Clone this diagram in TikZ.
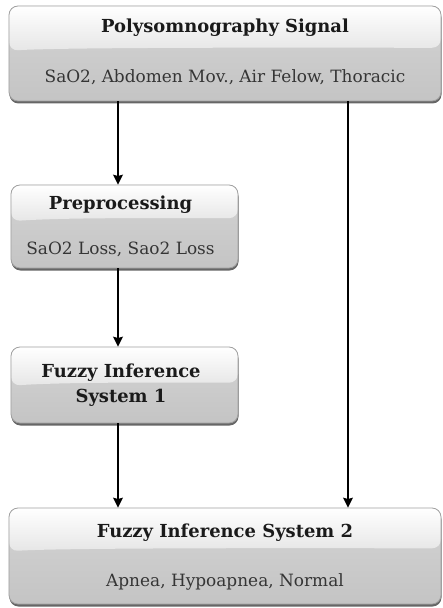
\documentclass[tikz,border=0pt]{standalone}
\usepackage{fontspec}
\setmainfont{DejaVu Serif}
\usetikzlibrary{shadows,calc,arrows.meta}
\definecolor{topgray}{HTML}{E6E6E6}
\definecolor{botgrayA}{HTML}{D4D4D4}
\definecolor{botgrayB}{HTML}{C4C4C4}
\definecolor{edgegray}{HTML}{A0A0A0}
\definecolor{txtdark}{HTML}{1A1A1A}
\definecolor{txtsub}{HTML}{353535}
\tikzset{
  glossbox/.style={draw=edgegray, line width=0.8bp, rounded corners=9bp, inner sep=0pt,
    drop shadow={shadow xshift=0.5bp, shadow yshift=-2.5bp, fill=black, opacity=0.6},
    path picture={
      \shade[top color=botgrayA, bottom color=botgrayB] (path picture bounding box.south west) rectangle (path picture bounding box.north east);
      \shade[top color=white, bottom color=topgray]
        (path picture bounding box.north west) --
        (path picture bounding box.north east) --
        ($(path picture bounding box.north east)!#1!(path picture bounding box.south east)$)
        .. controls +(-60bp,0bp) and +(60bp,4bp) ..
        ($(path picture bounding box.north west)!#1!(path picture bounding box.south west)+(0bp,-3bp)$) -- cycle;
    }},
  titletext/.style={font=\fontsize{18}{25}\selectfont\bfseries, text=txtdark, align=center, inner sep=0pt},
  subtext/.style={font=\fontsize{17}{20}\selectfont, text=txtsub, inner sep=0pt},
  flow/.style={line width=1.2bp, -{Stealth[length=10bp,width=10bp,inset=1.5bp]}, black}
}
\begin{document}
\begin{tikzpicture}[x=1bp,y=-1bp]
\useasboundingbox (0,0) rectangle (443,608);
% boxes
\node[glossbox=0.44, minimum width=432bp, minimum height=95bp] (psg) at (225,53.5) {};
\node[glossbox=0.40, minimum width=227bp, minimum height=83bp] (pre) at (124.5,226.5) {};
\node[glossbox=0.47, minimum width=227bp, minimum height=76bp] (fis1) at (124.5,385) {};
\node[glossbox=0.42, minimum width=432bp, minimum height=96bp] (fis2) at (225,556) {};
% texts
\node[titletext] (psgT) at (225,28) {Polysomnography Signal};
\node[subtext] (psgS) at (225,77) {SaO2, Abdomen Mov., Air Felow, Thoracic};
\node[titletext] (preT) at (120.5,205) {Preprocessing};
\node[subtext] (preS) at (120.5,249) {SaO2 Loss, Sao2 Loss};
\node[titletext] (fis1T) at (121,385) {Fuzzy Inference\\System 1};
\node[titletext] (fis2T) at (225,533) {Fuzzy Inference System 2};
\node[subtext] (fis2S) at (225,582) {Apnea, Hypoapnea, Normal};
% connectors
\coordinate (laneL) at (118,0);
\coordinate (laneR) at (348,0);
\draw[flow] (psg.south -| laneL) -- (pre.north -| laneL);
\draw[flow] (pre.south -| laneL) -- (fis1.north -| laneL);
\draw[flow] (fis1.south -| laneL) -- (fis2.north -| laneL);
\draw[flow] (psg.south -| laneR) -- (fis2.north -| laneR);
\end{tikzpicture}
\end{document}
